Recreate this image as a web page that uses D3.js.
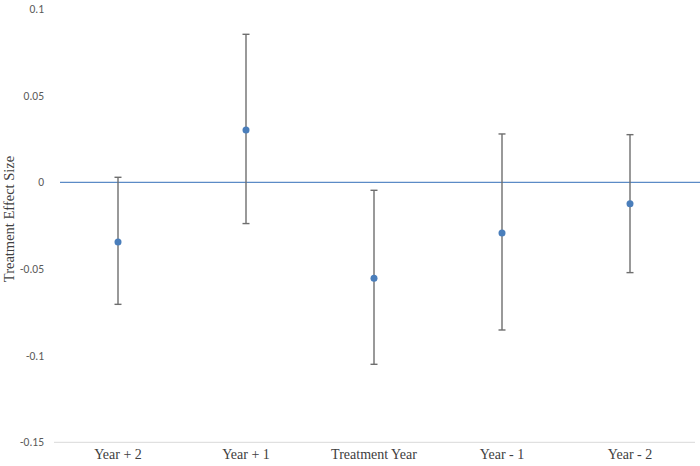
<!DOCTYPE html>
<html>
<head>
<meta charset="utf-8">
<script src="https://cdn.jsdelivr.net/npm/d3@7"></script>
<style>
  html, body { margin: 0; padding: 0; background: #fff; }
  svg { display: block; }
</style>
</head>
<body>
<div id="chart"></div>
<script>
const categories = ["Year + 2", "Year + 1", "Treatment Year", "Year - 1", "Year - 2"];
const estimates  = [-0.0344, 0.0302, -0.0553, -0.0292, -0.0123];
const upperCI    = [0.0029, 0.0854, -0.0046, 0.0279, 0.0275];
const lowerCI    = [-0.0704, -0.0238, -0.1050, -0.0852, -0.0521];
const yTicks     = [0.1, 0.05, 0, -0.05, -0.1, -0.15];
const yTickLabels = ["0.1", "0.05", "0", "-0.05", "-0.1", "-0.15"];

const W = 700, H = 466;
const svg = d3.select("#chart").append("svg").attr("width", W).attr("height", H);

const x = d3.scaleBand().domain(categories).range([54, 694]);
const y = d3.scaleLinear().domain([-0.15, 0.1]).range([442.3, 9]);

// bottom axis line
svg.append("line")
  .attr("x1", 54).attr("x2", 695)
  .attr("y1", y(-0.15)).attr("y2", y(-0.15))
  .attr("stroke", "#d9d9d9").attr("stroke-width", 1);

// zero line
svg.append("line")
  .attr("x1", 60).attr("x2", 700)
  .attr("y1", y(0)).attr("y2", y(0))
  .attr("stroke", "#5b8bc6").attr("stroke-width", 1.2);

// y tick labels
svg.append("g").selectAll("text").data(yTicks).join("text")
  .attr("x", 44).attr("y", d => y(d))
  .attr("dy", "0.35em")
  .attr("text-anchor", "end")
  .attr("font-family", "Carlito, 'Liberation Sans', Arial, sans-serif")
  .attr("font-size", 11.5)
  .attr("fill", "#595959")
  .text((d, i) => yTickLabels[i]);

// x labels
svg.append("g").selectAll("text").data(categories).join("text")
  .attr("x", d => x(d) + x.bandwidth() / 2)
  .attr("y", 459)
  .attr("text-anchor", "middle")
  .attr("font-family", "'Liberation Serif', 'Times New Roman', serif")
  .attr("font-size", 14)
  .attr("fill", "#404040")
  .text(d => d);

// y axis title
svg.append("text")
  .attr("transform", `translate(14, ${219}) rotate(-90)`)
  .attr("text-anchor", "middle")
  .attr("font-family", "'Liberation Serif', 'Times New Roman', serif")
  .attr("font-size", 14.5)
  .attr("fill", "#404040")
  .text("Treatment Effect Size");

const data = categories.map((c, i) => ({c, est: estimates[i], hi: upperCI[i], lo: lowerCI[i]}));
const cx = d => x(d.c) + x.bandwidth() / 2;

const eb = svg.append("g");
eb.selectAll("line.v").data(data).join("line").attr("class", "v")
  .attr("x1", cx).attr("x2", cx)
  .attr("y1", d => y(d.hi)).attr("y2", d => y(d.lo))
  .attr("stroke", "#6e6e6e").attr("stroke-width", 1.4);
eb.selectAll("line.t").data(data).join("line").attr("class", "t")
  .attr("x1", d => cx(d) - 3.5).attr("x2", d => cx(d) + 3.5)
  .attr("y1", d => y(d.hi)).attr("y2", d => y(d.hi))
  .attr("stroke", "#6e6e6e").attr("stroke-width", 1.4);
eb.selectAll("line.b").data(data).join("line").attr("class", "b")
  .attr("x1", d => cx(d) - 3.5).attr("x2", d => cx(d) + 3.5)
  .attr("y1", d => y(d.lo)).attr("y2", d => y(d.lo))
  .attr("stroke", "#6e6e6e").attr("stroke-width", 1.4);

svg.append("g").selectAll("circle").data(data).join("circle")
  .attr("cx", cx).attr("cy", d => y(d.est))
  .attr("r", 3.5)
  .attr("fill", "#4a7ebb");
</script>
</body>
</html>
